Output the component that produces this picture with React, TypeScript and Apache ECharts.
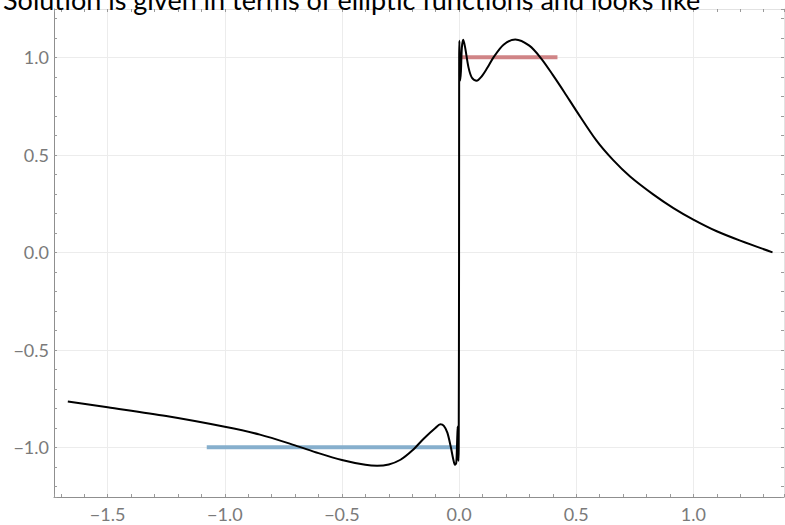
import React, { useEffect, useRef } from "react";
import * as echarts from "echarts";

const titleText = "Solution is given in terms of elliptic functions and looks like";

const curveX = [
  -1.67, -1.5, -1.25, -1.0, -0.85, -0.7, -0.6, -0.5, -0.4, -0.35, -0.3, -0.25, -0.2, -0.15, -0.1,
  -0.08, -0.065, -0.05, -0.035, -0.025, -0.0175, -0.012, -0.009, -0.006, -0.0045, -0.003, -0.0015,
  0.0, 0.0005, 0.0015, 0.003, 0.0045, 0.008, 0.012, 0.018, 0.026, 0.04, 0.055, 0.075, 0.095, 0.12,
  0.147, 0.19, 0.24, 0.3, 0.35, 0.4, 0.45, 0.5, 0.586, 0.657, 0.73, 0.83, 0.915, 1.0, 1.1, 1.2,
  1.338,
];
const curveY = [
  -0.765, -0.795, -0.84, -0.895, -0.935, -0.99, -1.03, -1.065, -1.09, -1.095, -1.088, -1.064,
  -1.017, -0.955, -0.9, -0.882, -0.89, -0.925, -1.0, -1.06, -1.09, -1.08, -1.0, -0.894, -0.95,
  -1.07, -1.0, 0.0, 1.0, 1.085, 0.95, 0.88, 0.93, 1.05, 1.09, 1.05, 0.95, 0.895, 0.88, 0.9, 0.945,
  1.0, 1.065, 1.092, 1.06, 0.995, 0.91, 0.82, 0.727, 0.574, 0.474, 0.389, 0.296, 0.227, 0.168,
  0.108, 0.06, 0.0,
];

const upperX = [0.0, 0.42];
const upperY = [1.0, 1.0];
const lowerX = [-1.077, 0.0];
const lowerY = [-1.0, -1.0];

const X_MIN = -1.729;
const X_MAX = 1.387;
const Y_MIN = -1.255;
const Y_MAX = 1.248;

const FONT = "Lato";

function fmt(v: number): string {
  const s = Math.abs(v).toFixed(1);
  return v < -1e-9 ? "\u2212" + s : s;
}

export default function App() {
  const ref = useRef<HTMLDivElement>(null);
  useEffect(() => {
    if (!ref.current) return;
    const chart = echarts.init(ref.current, undefined, { renderer: "svg" });
    const zip = (xs: number[], ys: number[]) => xs.map((x, i) => [x, ys[i]]);
    const tickStyle = { show: true, inside: true, length: 3, lineStyle: { color: "#9a9a9a" } };
    chart.setOption({
      animation: false,
      backgroundColor: "#ffffff",
      grid: { left: 54, right: 1, top: 9, bottom: 28, containLabel: false },
      graphic: [
        {
          type: "text",
          left: 3,
          top: -14,
          style: {
            text: titleText,
            fontFamily: FONT,
            fontSize: 27,
            fill: "#000000",
          },
          z: 100,
        },
      ],
      xAxis: [
        {
          type: "value",
          min: X_MIN,
          max: X_MAX,
          splitNumber: 6,
          position: "bottom",
          axisLine: { show: true, onZero: false, lineStyle: { color: "#8f8f8f", width: 1 } },
          axisTick: { show: false },
          splitLine: { show: true, lineStyle: { color: "#ececec", width: 1 } },
          axisLabel: {
            showMinLabel: false,
            showMaxLabel: false,
            color: "#7a7a7a",
            fontFamily: FONT,
            fontSize: 18,
            margin: 8,
            formatter: (v: number) => fmt(v),
          },
        },
        {
          type: "value",
          min: X_MIN,
          max: X_MAX,
          gridIndex: 0,
          position: "bottom",
          splitNumber: 31,
          axisLabel: { show: false },
          splitLine: { show: false },
          axisLine: { show: false, onZero: false },
          axisTick: tickStyle,
        },
        {
          type: "value",
          min: X_MIN,
          max: X_MAX,
          gridIndex: 0,
          position: "top",
          splitNumber: 31,
          axisLabel: { show: false },
          splitLine: { show: false },
          axisLine: { show: true, onZero: false, lineStyle: { color: "#e2e2e2" } },
          axisTick: tickStyle,
        },
      ],
      yAxis: [
        {
          type: "value",
          min: Y_MIN,
          max: Y_MAX,
          splitNumber: 5,
          position: "left",
          axisLine: { show: true, onZero: false, lineStyle: { color: "#8f8f8f", width: 1 } },
          axisTick: { show: false },
          splitLine: { show: true, lineStyle: { color: "#ececec", width: 1 } },
          axisLabel: {
            showMinLabel: false,
            showMaxLabel: false,
            color: "#7a7a7a",
            fontFamily: FONT,
            fontSize: 18,
            margin: 5,
            formatter: (v: number) => fmt(v),
          },
        },
        {
          type: "value",
          min: Y_MIN,
          max: Y_MAX,
          gridIndex: 0,
          position: "left",
          splitNumber: 25,
          axisLabel: { show: false },
          splitLine: { show: false },
          axisLine: { show: false, onZero: false },
          axisTick: tickStyle,
        },
        {
          type: "value",
          min: Y_MIN,
          max: Y_MAX,
          gridIndex: 0,
          position: "right",
          splitNumber: 25,
          axisLabel: { show: false },
          splitLine: { show: false },
          axisLine: { show: true, onZero: false, lineStyle: { color: "#e2e2e2" } },
          axisTick: tickStyle,
        },
      ],
      series: [
        {
          type: "line",
          xAxisIndex: 0,
          yAxisIndex: 0,
          data: zip(lowerX, lowerY),
          showSymbol: false,
          symbol: "none",
          lineStyle: { color: "#86afcd", width: 4 },
          z: 2,
        },
        {
          type: "line",
          xAxisIndex: 0,
          yAxisIndex: 0,
          data: zip(upperX, upperY),
          showSymbol: false,
          symbol: "none",
          lineStyle: { color: "#d08486", width: 4 },
          z: 2,
        },
        {
          type: "line",
          xAxisIndex: 0,
          yAxisIndex: 0,
          data: zip(curveX, curveY),
          showSymbol: false,
          symbol: "none",
          smooth: 0.3,
          lineStyle: { color: "#000000", width: 2 },
          z: 3,
        },
      ],
    });
    return () => chart.dispose();
  }, []);
  return (
    <div
      ref={ref}
      style={{ position: "fixed", left: 0, top: 0, width: 785, height: 525 }}
    />
  );
}
